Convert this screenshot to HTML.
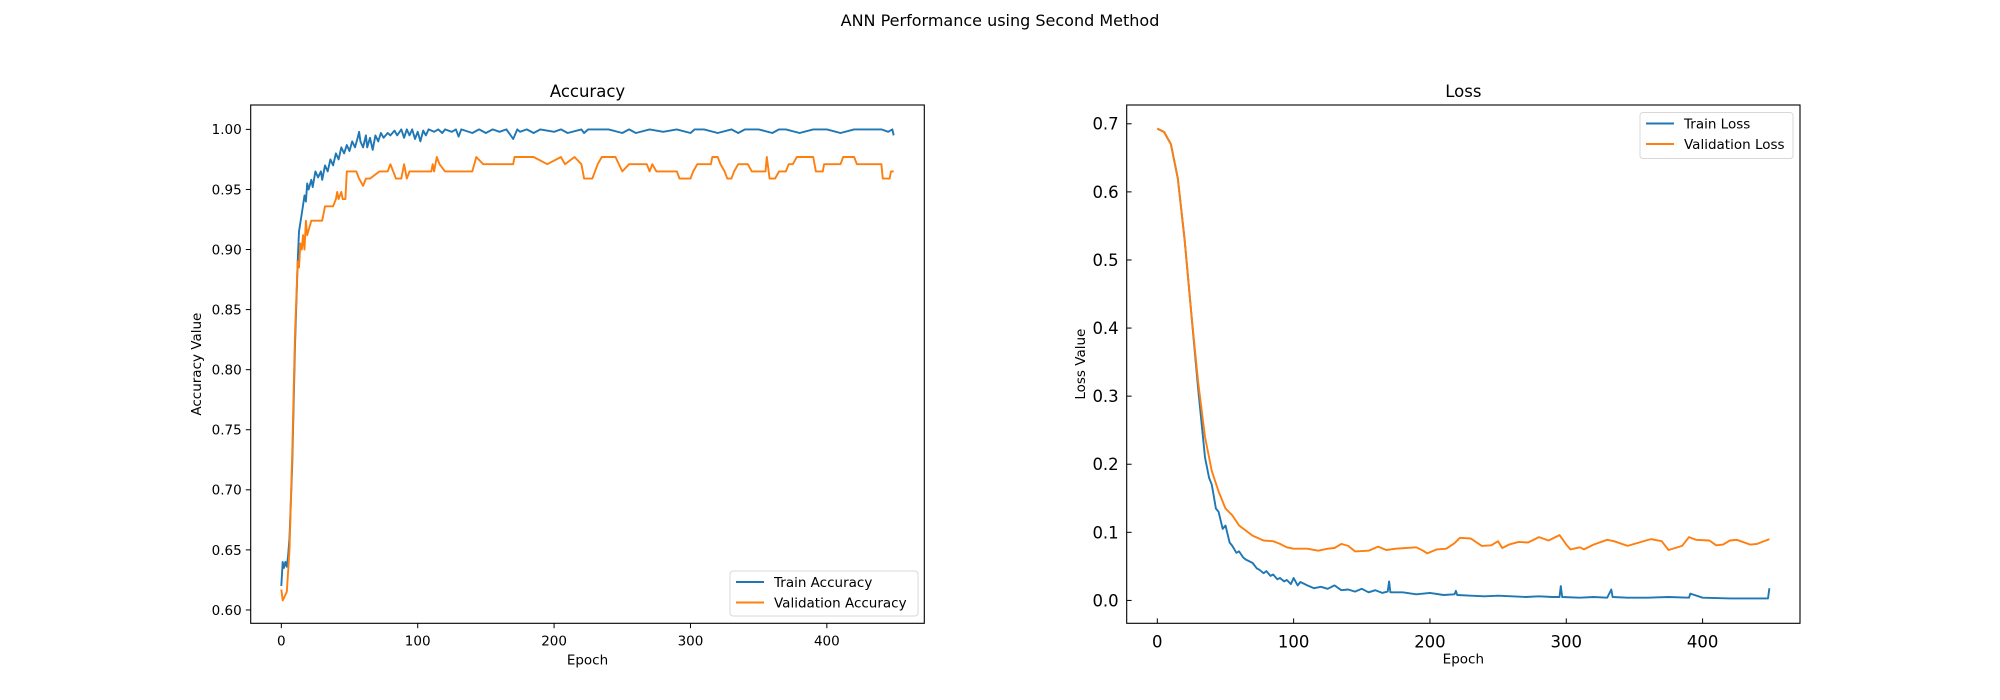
<!DOCTYPE html>
<html><head><meta charset="utf-8"><style>
body{margin:0;background:#fff}
svg{display:block;font-family:"DejaVu Sans","Liberation Sans",sans-serif}
</style></head><body>
<svg id="fig" width="2000" height="700" viewBox="0 0 2000 700">
<text x="1000" y="26" text-anchor="middle" font-size="16">ANN Performance using Second Method</text>
</svg>
<script>
const accTrainEpochs=[0,1,2,3,4,5,6,8,10,12,13,15,17,18,19,20,22,23,25,27,29,30,32,34,36,38,40,42,44,46,48,50,52,54,56,57,58,60,62,63,65,67,69,71,73,75,78,80,83,85,88,90,92,94,96,98,100,102,104,106,108,112,115,118,120,125,128,130,132,140,145,150,155,160,165,170,173,175,180,185,190,200,205,210,220,222,225,240,250,255,260,270,280,290,300,303,310,320,330,335,340,350,360,365,370,380,390,400,410,420,430,440,445,448,449];
const accTrain=[0.62,0.64,0.635,0.64,0.636,0.645,0.66,0.72,0.82,0.89,0.915,0.93,0.945,0.94,0.955,0.95,0.958,0.952,0.965,0.96,0.965,0.958,0.97,0.965,0.975,0.97,0.98,0.975,0.985,0.98,0.987,0.982,0.99,0.985,0.993,0.998,0.99,0.985,0.995,0.985,0.993,0.983,0.995,0.99,0.997,0.993,0.997,0.995,0.999,0.995,1.0,0.993,1.0,0.995,1.0,0.992,0.998,0.99,0.999,0.995,1.0,0.998,1.0,0.997,1.0,0.998,1.0,0.994,1.0,0.997,1.0,0.997,1.0,0.998,1.0,0.992,1.0,0.998,1.0,0.997,1.0,0.998,1.0,0.997,1.0,0.997,1.0,1.0,0.997,1.0,0.997,1.0,0.998,1.0,0.997,1.0,1.0,0.997,1.0,0.997,1.0,1.0,0.997,1.0,1.0,0.997,1.0,1.0,0.997,1.0,1.0,1.0,0.998,1.0,0.995];
const accValEpochs=[0,1,2,4,6,8,10,12,13,14,15,16,17,18,19,22,30,32,38,40,41,42,44,45,47,48,55,57,60,62,65,72,78,80,82,84,88,90,92,94,110,111,112,114,116,120,140,143,148,170,171,185,195,205,208,215,220,222,228,230,232,235,245,250,255,268,270,272,275,290,292,300,302,305,315,316,320,322,325,327,330,332,335,342,345,355,356,358,362,365,370,372,375,378,390,392,397,398,410,412,420,422,440,441,446,447,449];
const accVal=[0.617,0.608,0.61,0.615,0.65,0.73,0.83,0.89,0.885,0.905,0.9,0.912,0.9,0.924,0.912,0.924,0.924,0.936,0.936,0.942,0.948,0.942,0.948,0.942,0.942,0.965,0.965,0.959,0.953,0.959,0.959,0.965,0.965,0.971,0.965,0.959,0.959,0.971,0.959,0.965,0.965,0.971,0.965,0.977,0.971,0.965,0.965,0.977,0.971,0.971,0.977,0.977,0.971,0.977,0.971,0.977,0.971,0.959,0.959,0.965,0.971,0.977,0.977,0.965,0.971,0.971,0.965,0.971,0.965,0.965,0.959,0.959,0.965,0.971,0.971,0.977,0.977,0.971,0.965,0.959,0.959,0.965,0.971,0.971,0.965,0.965,0.977,0.959,0.959,0.965,0.965,0.971,0.971,0.977,0.977,0.965,0.965,0.971,0.971,0.977,0.977,0.971,0.971,0.959,0.959,0.965,0.965];
const lossValEpochs=[0,5,10,15,20,25,30,35,40,45,50,55,60,70,78,85,90,95,100,110,118,125,130,135,140,145,155,162,168,175,190,195,198,205,212,218,222,230,238,245,250,253,258,265,272,280,287,295,300,303,310,313,320,330,335,345,355,362,370,375,385,390,395,405,410,415,420,425,435,440,449];
const lossVal=[0.693,0.688,0.67,0.62,0.53,0.42,0.32,0.24,0.19,0.16,0.135,0.125,0.11,0.095,0.088,0.087,0.083,0.078,0.076,0.076,0.073,0.076,0.077,0.083,0.08,0.072,0.073,0.079,0.074,0.076,0.078,0.073,0.069,0.075,0.076,0.084,0.092,0.091,0.08,0.081,0.087,0.077,0.082,0.086,0.085,0.093,0.088,0.096,0.082,0.075,0.078,0.075,0.082,0.089,0.087,0.08,0.086,0.09,0.087,0.074,0.08,0.093,0.089,0.088,0.081,0.082,0.088,0.089,0.082,0.083,0.09];
const lossTrainEpochs=[0,5,10,15,20,25,30,35,38,40,43,45,48,50,53,55,58,60,63,65,68,70,73,75,78,80,83,85,88,90,93,95,98,100,103,105,110,115,120,125,130,135,140,145,150,155,160,165,169,170,171,180,190,200,210,218,219,220,230,240,250,260,270,280,290,295,296,297,310,320,330,333,334,345,360,375,390,391,400,420,440,448,449];
const lossTrain=[0.693,0.688,0.67,0.62,0.53,0.42,0.31,0.21,0.18,0.17,0.135,0.13,0.105,0.11,0.085,0.08,0.07,0.072,0.063,0.06,0.057,0.055,0.047,0.045,0.04,0.043,0.036,0.038,0.031,0.033,0.028,0.03,0.024,0.033,0.022,0.027,0.022,0.018,0.02,0.017,0.022,0.015,0.016,0.013,0.017,0.012,0.015,0.011,0.013,0.028,0.012,0.012,0.009,0.011,0.008,0.009,0.014,0.008,0.007,0.006,0.007,0.006,0.005,0.006,0.005,0.005,0.021,0.005,0.004,0.005,0.004,0.016,0.005,0.004,0.004,0.005,0.004,0.01,0.004,0.003,0.003,0.003,0.018];
const accTicks=[0.60,0.65,0.70,0.75,0.80,0.85,0.90,0.95,1.00];
const lossTicks=[0.0,0.1,0.2,0.3,0.4,0.5,0.6,0.7];
const xTicks=[0,100,200,300,400];

const NS="http://www.w3.org/2000/svg";
const svg=document.getElementById('fig');
function mk(tag,attrs,parent){const e=document.createElementNS(NS,tag);for(const k in attrs)e.setAttribute(k,attrs[k]);(parent||svg).appendChild(e);return e;}
const X0=-22.45,X1=471.45;
function panel(o){
  const g=mk('g',{});
  
  
  const sx=v=>o.L+(v-X0)/(X1-X0)*(o.R-o.L);
  const sy=v=>o.B-(v-o.y0)/(o.y1-o.y0)*(o.B-o.T);
  o.series.forEach(s=>{
    const p=mk('polyline',{points:s.ep.map((e,i)=>sx(e).toFixed(1)+','+sy(s.v[i]).toFixed(1)).join(' '),fill:'none',stroke:s.c,'stroke-width':1.9,'stroke-linejoin':'round'},g);
    
    
  });
  mk('rect',{x:o.L,y:o.T,width:o.R-o.L,height:o.B-o.T,fill:'none',stroke:'#000','stroke-width':1.1},g);
  const tin=o.inward?-1:1;
  xTicks.forEach(t=>{
    const x=sx(t);
    mk('line',{x1:x,x2:x,y1:o.B,y2:o.B+4.9*tin,stroke:'#000','stroke-width':1},g);
    const tx=mk('text',{x:x,y:o.B+(o.inward?24:22),'text-anchor':'middle','font-size':o.fs},g);
    tx.textContent=t;
    
    
  });
  o.yt.forEach(t=>{
    const y=sy(t);
    mk('line',{x1:o.L,x2:o.L-4.9*tin,y1:y,y2:y,stroke:'#000','stroke-width':1},g);
    const tx=mk('text',{x:o.L-(o.inward?8:9),y:y+o.fs*0.36,'text-anchor':'end','font-size':o.fs},g);
    tx.textContent=t.toFixed(o.dec);
    
    
  });
  const ti=mk('text',{x:(o.L+o.R)/2,y:o.T-8,'text-anchor':'middle','font-size':16.5},g);
  ti.textContent=o.title;
  
  
  const xl=mk('text',{x:(o.L+o.R)/2,y:o.B+(o.inward?40:41),'text-anchor':'middle','font-size':13.5},g);
  xl.textContent='Epoch';
  
  
  const yl=mk('text',{x:o.ylx,y:(o.T+o.B)/2,'text-anchor':'middle','font-size':13.5,transform:`rotate(-90 ${o.ylx} ${(o.T+o.B)/2})`},g);
  yl.textContent=o.ylabel;
  
  
  const lg=mk('g',{},g);
  
  
  mk('rect',{x:o.lg[0],y:o.lg[1],width:o.lg[2],height:o.lg[3],rx:3,fill:'#fff','fill-opacity':0.8,stroke:'#d8d8d8'},lg);
  o.series.forEach((s,i)=>{
    const y=o.lg[1]+11+i*20.5;
    mk('line',{x1:o.lg[0]+6,x2:o.lg[0]+34,y1:y,y2:y,stroke:s.c,'stroke-width':1.9},lg);
    const t=mk('text',{x:o.lg[0]+44,y:y+5,'font-size':13.5},lg);
    t.textContent=s.label;
    
    
  });
}
panel({name:'accuracy-chart',L:250.7,R:924.3,T:105,B:623.3,y0:0.5889,y1:1.0203,yt:accTicks,dec:2,fs:13.5,inward:false,title:'Accuracy',ylabel:'Accuracy Value',ylx:201,
  lg:[730,571,188,45],
  series:[{ep:accTrainEpochs,v:accTrain,c:'#1f77b4',nm:'train-accuracy-line',label:'Train Accuracy'},{ep:accValEpochs,v:accVal,c:'#ff7f0e',nm:'validation-accuracy-line',label:'Validation Accuracy'}]});
panel({name:'loss-chart',L:1126.7,R:1800,T:105,B:623.3,y0:-0.0336,y1:0.7276,yt:lossTicks,dec:1,fs:16.5,inward:true,title:'Loss',ylabel:'Loss Value',ylx:1085,
  lg:[1640,112.5,153,46],
  series:[{ep:lossTrainEpochs,v:lossTrain,c:'#1f77b4',nm:'train-loss-line',label:'Train Loss'},{ep:lossValEpochs,v:lossVal,c:'#ff7f0e',nm:'validation-loss-line',label:'Validation Loss'}]});
</script>
</body></html>
